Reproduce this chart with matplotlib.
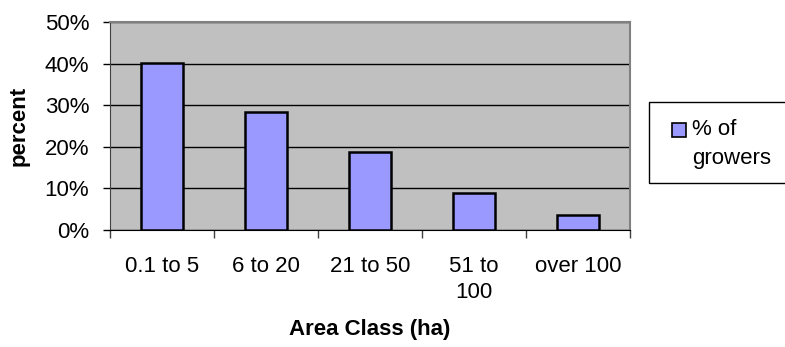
import matplotlib.pyplot as plt
from matplotlib.patches import Rectangle
from matplotlib.ticker import PercentFormatter

categories = ['0.1 to 5', '6 to 20', '21 to 50', '51 to\n100', 'over 100']
growers_pct = [40.1, 28.4, 18.7, 9.0, 3.6]
series_name = '% of\ngrowers'

plt.rcParams['font.family'] = ['Liberation Sans', 'DejaVu Sans']
plt.rcParams['font.size'] = 16

bar_color = '#9999ff'

fig = plt.figure(figsize=(7.85, 3.47), dpi=100)
W, H = 785, 347
ax = fig.add_axes([110 / W, (H - 230) / H, 520 / W, 208 / H])
ax.set_facecolor('#c0c0c0')

x = range(len(categories))
ax.bar(x, growers_pct, width=0.4, color=bar_color, edgecolor='black',
       linewidth=1.8, zorder=3)

ax.set_xlim(-0.5, len(categories) - 0.5)
ax.set_ylim(0, 50)
ax.set_yticks(range(0, 51, 10))
ax.yaxis.set_major_formatter(PercentFormatter(decimals=0))
ax.grid(axis='y', color='black', linewidth=1.0, zorder=1)

# category labels centred, tick marks between categories
ax.set_xticks(list(x))
ax.set_xticklabels(categories, linespacing=1.3)
ax.set_xticks([i - 0.5 for i in range(len(categories) + 1)], minor=True)
ax.tick_params(axis='x', which='major', length=0, pad=19)
ax.tick_params(axis='x', which='minor', length=6, width=1, color='#404040',
               direction='out')
ax.tick_params(axis='y', length=5, width=1, direction='out', pad=10)

for side in ['top', 'right']:
    ax.spines[side].set_color('#808080')
    ax.spines[side].set_linewidth(1.5)
ax.spines['left'].set_color('#404040')
ax.spines['bottom'].set_color('black')

ax.set_ylabel('percent', fontweight='bold')
ax.yaxis.set_label_coords(-0.155, 0.5)
ax.set_xlabel('Area Class (ha)', fontweight='bold')
ax.xaxis.set_label_coords(0.5, -0.43)

# legend box
fig.patches.append(Rectangle((649 / W, (H - 183) / H), 150 / W, 81 / H,
                             transform=fig.transFigure, facecolor='white',
                             edgecolor='black', linewidth=1.0))
fig.patches.append(Rectangle((672 / W, (H - 137) / H), 14 / W, 14 / H,
                             transform=fig.transFigure, facecolor=bar_color,
                             edgecolor='black', linewidth=1.2))
fig.text(692 / W, (H - 119) / H, series_name, va='top', ha='left',
         linespacing=1.5)

fig.savefig('out.png', dpi=100)
